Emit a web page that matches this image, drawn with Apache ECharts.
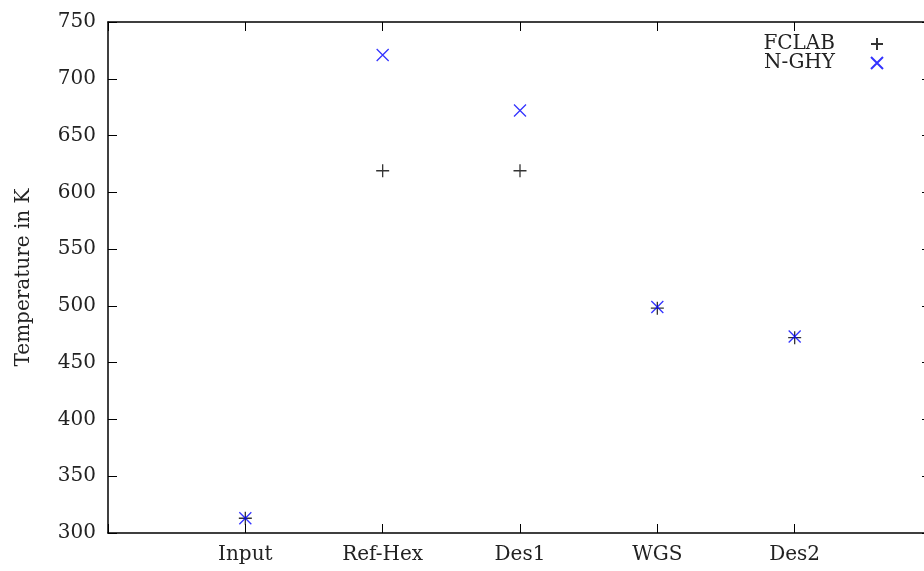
<!DOCTYPE html>
<html>
<head>
<meta charset="utf-8">
<script src="https://cdn.jsdelivr.net/npm/echarts@6/dist/echarts.min.js"></script>
<style>
  html, body { margin: 0; padding: 0; background: #fff; }
  #chart { width: 924px; height: 571px; }
</style>
</head>
<body>
<div id="chart"></div>
<script>
// data
var categories = ['Input', 'Ref-Hex', 'Des1', 'WGS', 'Des2'];
var fclab = [313, 619, 619, 498, 472];
var nghy = [313, 721, 672, 499, 473];
var yTicks = [300, 350, 400, 450, 500, 550, 600, 650, 700, 750];

var plusPath = 'path://M0,6L12,6M6,0L6,12';
var crossPath = 'path://M0,0L12,12M0,12L12,0';
var font = 'DejaVu Serif';
var txt = '#222';

var myChart = echarts.init(document.getElementById('chart'));

function toPoints(vals) {
    return vals.map(function (v, i) { return [i + 1, v]; });
}

var option = {
    animation: false,
    backgroundColor: '#fff',
    grid: { left: 108, top: 22, width: 824, bottom: 38, containLabel: false, outerBoundsMode: 'none' },
    legend: [{
        right: 40, top: 34, orient: 'vertical', align: 'right', padding: 0,
        itemWidth: 12, itemHeight: 12,
        data: [{ name: 'FCLAB', icon: plusPath }],
        textStyle: { fontFamily: font, fontSize: 20, lineHeight: 19, color: txt, padding: [0, 31, 0, 0] }
    }, {
        right: 40, top: 53, orient: 'vertical', align: 'right', padding: 0,
        itemWidth: 12, itemHeight: 12,
        data: [{ name: 'N-GHY', icon: crossPath }],
        textStyle: { fontFamily: font, fontSize: 20, lineHeight: 19, color: txt, padding: [0, 31, 0, 0] }
    }],
    xAxis: [{
        type: 'value', min: 0, max: 6, interval: 1, position: 'bottom',
        axisLine: { onZero: false, lineStyle: { color: '#000', width: 1.5 } },
        axisTick: { inside: true, length: 9, lineStyle: { color: '#000', width: 1 } },
        splitLine: { show: false },
        axisLabel: {
            margin: 12, fontFamily: font, fontSize: 20, color: txt,
            formatter: function (v) { return categories[v - 1] || ''; }
        }
    }, {
        type: 'value', min: 0, max: 6, interval: 1, position: 'top',
        axisLine: { onZero: false, lineStyle: { color: '#000', width: 1.5 } },
        axisTick: { inside: true, length: 9, lineStyle: { color: '#000', width: 1 } },
        splitLine: { show: false },
        axisLabel: { show: false }
    }],
    yAxis: [{
        type: 'value', min: yTicks[0], max: yTicks[yTicks.length - 1], interval: 50,
        name: 'Temperature in K', nameLocation: 'middle', nameGap: 74,
        nameTextStyle: { fontFamily: font, fontSize: 20, color: txt },
        axisLine: { show: true, onZero: false, lineStyle: { color: '#000', width: 1.5 } },
        axisTick: { show: true, inside: true, length: 9, lineStyle: { color: '#000', width: 1 } },
        splitLine: { show: false },
        axisLabel: { margin: 12, fontFamily: font, fontSize: 20, color: txt }
    }, {
        type: 'value', min: yTicks[0], max: yTicks[yTicks.length - 1], interval: 50,
        position: 'right',
        axisLine: { show: true, onZero: false, lineStyle: { color: '#000', width: 1.5 } },
        axisTick: { show: true, inside: true, length: 10, lineStyle: { color: '#000', width: 1 } },
        splitLine: { show: false },
        axisLabel: { show: false }
    }],
    series: [{
        name: 'FCLAB', type: 'scatter',
        symbol: plusPath, symbolSize: 13,
        itemStyle: { color: 'transparent', borderColor: '#000', borderWidth: 1.3 },
        data: toPoints(fclab)
    }, {
        name: 'N-GHY', type: 'scatter',
        symbol: crossPath, symbolSize: 12,
        itemStyle: { color: 'transparent', borderColor: '#0000ff', borderWidth: 1.3 },
        data: toPoints(nghy)
    }]
};

myChart.setOption(option);
</script>
</body>
</html>
